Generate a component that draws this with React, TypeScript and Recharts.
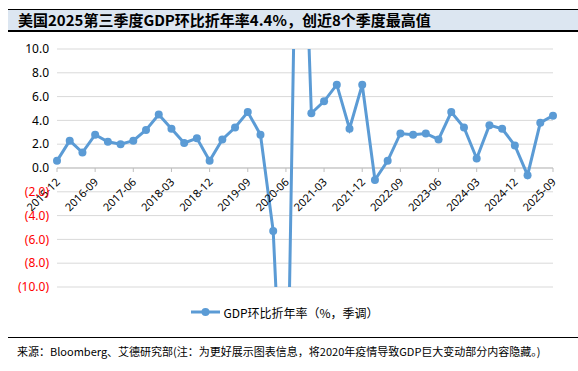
import React from 'react';
import {
  LineChart,
  Line,
  XAxis,
  YAxis,
  CartesianGrid,
  Legend,
  ReferenceLine,
  ReferenceDot
} from 'recharts';

// quarter-end months, 2015Q4 .. 2025Q3
const quarters = [
  '2015-12', '2016-03', '2016-06', '2016-09', '2016-12',
  '2017-03', '2017-06', '2017-09', '2017-12', '2018-03',
  '2018-06', '2018-09', '2018-12', '2019-03', '2019-06',
  '2019-09', '2019-12', '2020-03', '2020-06', '2020-09',
  '2020-12', '2021-03', '2021-06', '2021-09', '2021-12',
  '2022-03', '2022-06', '2022-09', '2022-12', '2023-03',
  '2023-06', '2023-09', '2023-12', '2024-03', '2024-06',
  '2024-09', '2024-12', '2025-03', '2025-06', '2025-09'
];

// GDP QoQ annualized (%, SA); 2020Q2/Q3 go off the chart on purpose
const gdpQoQ = [
  0.6, 2.3, 1.3, 2.8, 2.2,
  2.0, 2.3, 3.2, 4.5, 3.3,
  2.1, 2.5, 0.6, 2.4, 3.4,
  4.7, 2.8, -5.3, -28.0, 35.2,
  4.6, 5.6, 7.0, 3.3, 7.0,
  -1.0, 0.6, 2.9, 2.8, 2.9,
  2.4, 4.7, 3.4, 0.8, 3.6,
  3.3, 1.9, -0.6, 3.8, 4.4
];

const xTicks = [
  '2015-12', '2016-09', '2017-06', '2018-03', '2018-12', '2019-09', '2020-06',
  '2021-03', '2021-12', '2022-09', '2023-06', '2024-03', '2024-12', '2025-09'
];

const yTicks = [-10, -8, -6, -4, -2, 0, 2, 4, 6, 8, 10];

const LINE_COLOR = '#5b9bd5';
const NUM_FONT = '"Noto Sans", "Open Sans", sans-serif';
const CJK_FONT = '"Noto Sans CJK SC", "Noto Sans", sans-serif';

const chartData = quarters.map((q, i) => ({ quarter: q, gdp: gdpQoQ[i] }));

const fmtY = (v: number) => (v < 0 ? `(${Math.abs(v).toFixed(1)})` : v.toFixed(1));

const YTick = (props: any) => {
  const { x, y, payload } = props;
  const v = payload.value;
  return (
    <text
      x={x}
      y={y}
      dy="0.35em"
      textAnchor="end"
      fontSize={12}
      fontFamily={NUM_FONT}
      fill={v < 0 ? '#ff0000' : '#000000'}
    >
      {fmtY(v)}
    </text>
  );
};

// tick mark + rotated label sitting on the zero line
const ZeroAxisTick = ({ cx, cy, label }: { cx: number; cy: number; label: string }) => (
  <g>
    <line x1={cx} y1={cy} x2={cx} y2={cy + 4} stroke="#bfbfbf" strokeWidth={1} />
    <text
      transform={`translate(${cx + 1}, ${cy + 12}) rotate(-45)`}
      textAnchor="end"
      dy="0.35em"
      fontSize={11}
      fontFamily={NUM_FONT}
      fill="#000000"
    >
      {label}
    </text>
  </g>
);

const LegendContent = () => (
  <div
    style={{
      display: 'flex',
      justifyContent: 'center',
      alignItems: 'center',
      height: 20,
      fontFamily: CJK_FONT,
      fontSize: 12,
      color: '#000'
    }}
  >
    <svg width={29} height={10} style={{ display: 'block' }}>
      <line x1={0} y1={5} x2={29} y2={5} stroke={LINE_COLOR} strokeWidth={3} />
      <circle cx={14.5} cy={5} r={4} fill={LINE_COLOR} />
    </svg>
    <span style={{ marginLeft: 3 }}>GDP环比折年率（%，季调）</span>
  </div>
);

const App: React.FC = () => {
  return (
    <div
      style={{
        position: 'absolute',
        left: 0,
        top: 0,
        width: 578,
        height: 371,
        background: '#ffffff',
        overflow: 'hidden'
      }}
    >
      {/* title bar */}
      <div
        style={{
          position: 'absolute',
          left: 8,
          top: 9,
          width: 562,
          height: 20,
          borderTop: '1px solid #000',
          borderBottom: '2px solid #000',
          background: '#dce6f1',
          fontFamily: CJK_FONT,
          fontWeight: 700,
          fontSize: 15,
          lineHeight: '20px',
          paddingLeft: 10,
          boxSizing: 'content-box',
          whiteSpace: 'nowrap'
        }}
      >
        美国2025第三季度GDP环比折年率4.4%，创近8个季度最高值
      </div>

      <div style={{ position: 'absolute', left: 0, top: 0 }}>
        <LineChart
          width={578}
          height={330}
          data={chartData}
          margin={{ top: 49, right: 25, left: 7, bottom: 43 }}
        >
          <CartesianGrid vertical={false} stroke="#d9d9d9" />
          <XAxis dataKey="quarter" type="category" hide />
          <YAxis
            domain={[-10, 10]}
            ticks={yTicks}
            allowDataOverflow
            width={50}
            axisLine={false}
            tickLine={false}
            tickSize={0}
            tickMargin={8}
            tick={<YTick />}
          />
          <ReferenceLine y={0} stroke="#bfbfbf" strokeWidth={1} />
          {xTicks.map((t) => (
            <ReferenceDot
              key={t}
              x={t}
              y={0}
              r={0}
              ifOverflow="visible"
              shape={(p: any) => <ZeroAxisTick cx={p.cx} cy={p.cy} label={t} />}
            />
          ))}
          <Line
            type="linear"
            dataKey="gdp"
            name="GDP环比折年率（%，季调）"
            stroke={LINE_COLOR}
            strokeWidth={3}
            dot={{ r: 4, fill: LINE_COLOR, stroke: LINE_COLOR, strokeWidth: 0 }}
            activeDot={false}
            isAnimationActive={false}
          />
          <Legend
            verticalAlign="middle"
            align="center"
            content={<LegendContent />}
            wrapperStyle={{ top: 302, left: -4, width: 578 }}
          />
        </LineChart>
      </div>

      {/* source note */}
      <div
        style={{
          position: 'absolute',
          left: 8,
          top: 337,
          width: 562,
          borderTop: '1px solid #000',
          paddingTop: 6,
          paddingLeft: 9,
          fontFamily: CJK_FONT,
          fontSize: 11,
          lineHeight: '14px',
          color: '#000',
          whiteSpace: 'nowrap'
        }}
      >
        来源：Bloomberg、艾德研究部(注：为更好展示图表信息，将2020年疫情导致GDP巨大变动部分内容隐藏。)
      </div>
    </div>
  );
};

export default App;
